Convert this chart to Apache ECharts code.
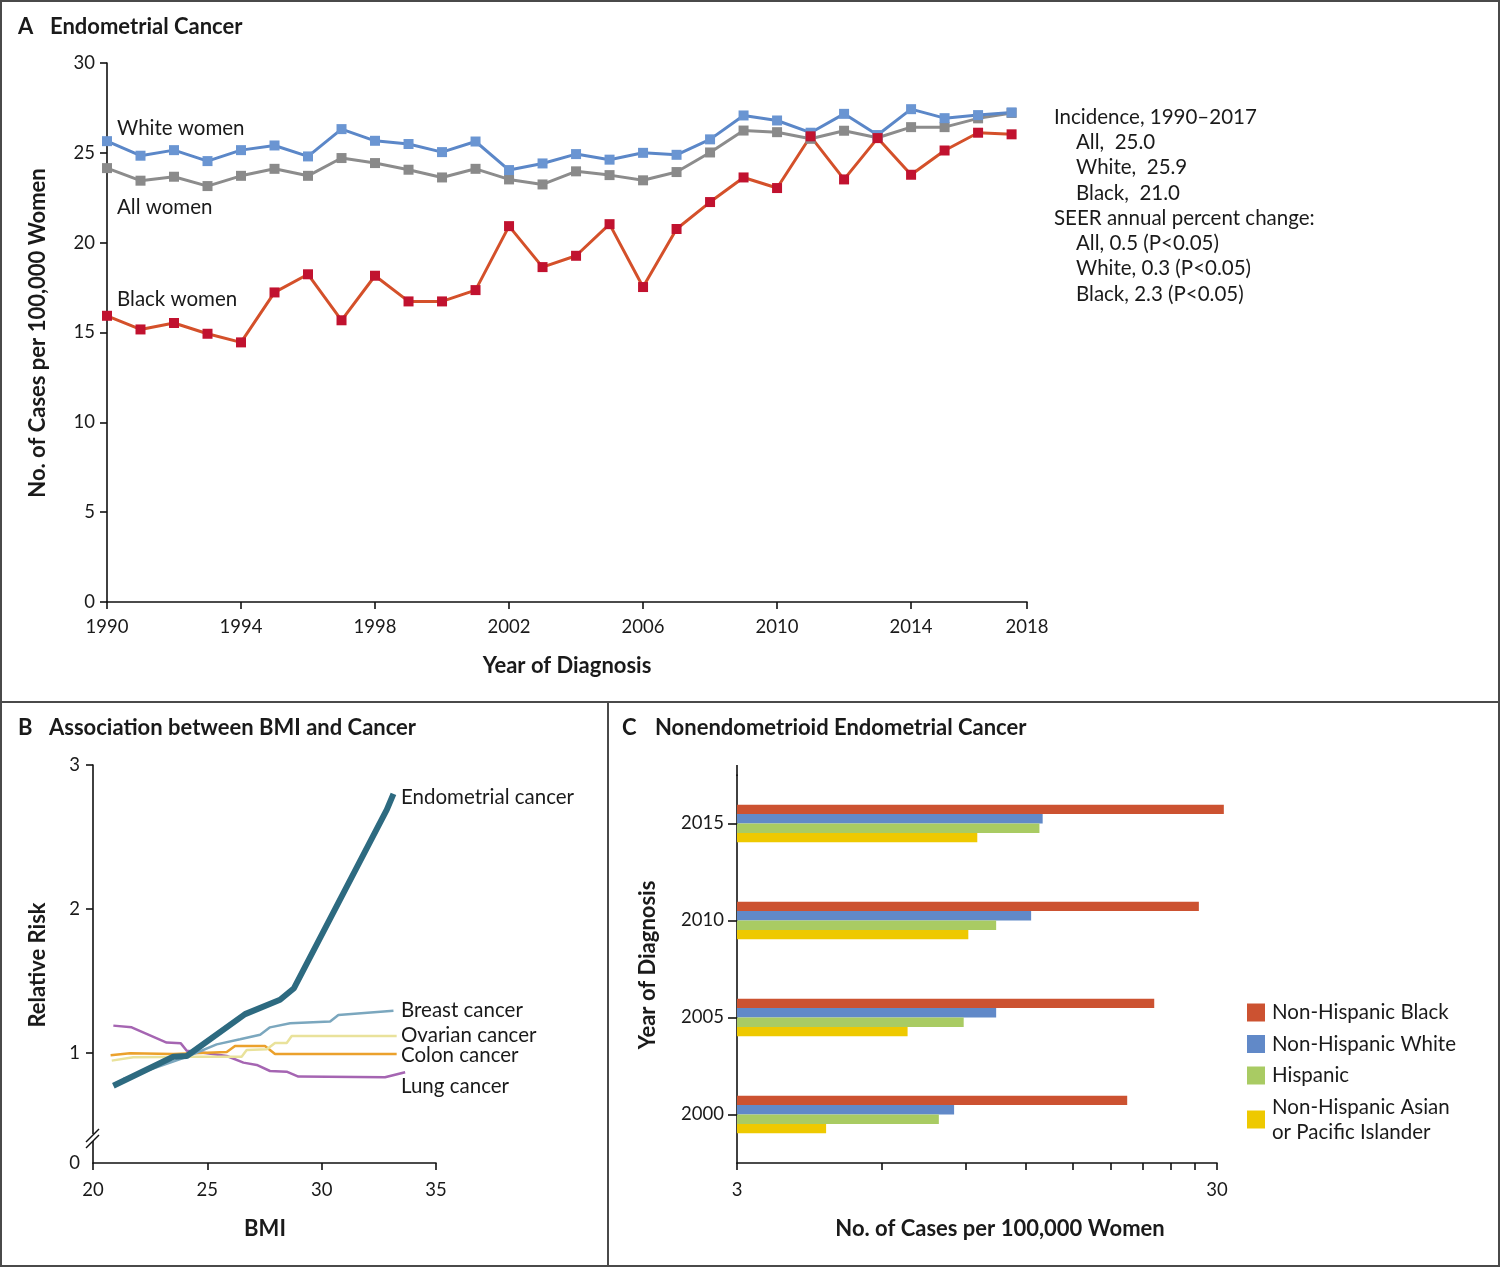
<!DOCTYPE html>
<html><head><meta charset="utf-8">
<script src="https://cdn.jsdelivr.net/npm/echarts@6/dist/echarts.min.js"></script>
<style>html,body{margin:0;padding:0;background:#fff}#c{width:1500px;height:1267px}</style>
</head><body><div id="c"></div>
<script>
// ---------- Panel A data ----------
const years = [1990,1991,1992,1993,1994,1995,1996,1997,1998,1999,2000,2001,2002,2003,2004,2005,2006,2007,2008,2009,2010,2011,2012,2013,2014,2015,2016,2017];
const whiteWomen = [25.65,24.84,25.15,24.54,25.15,25.41,24.80,26.32,25.67,25.49,25.04,25.63,24.04,24.41,24.93,24.62,25.00,24.89,25.75,27.08,26.80,26.12,27.17,25.99,27.43,26.93,27.10,27.25];
const allWomen   = [24.15,23.45,23.67,23.15,23.72,24.11,23.72,24.71,24.43,24.06,23.63,24.11,23.52,23.24,23.97,23.76,23.47,23.93,25.02,26.24,26.15,25.78,26.23,25.84,26.43,26.43,26.92,27.22];
const blackWomen = [15.93,15.17,15.53,14.93,14.45,17.23,18.24,15.68,18.16,16.73,16.73,17.36,20.92,18.64,19.27,21.03,17.53,20.76,22.26,23.63,23.04,25.92,23.52,25.82,23.78,25.13,26.12,26.03];
const aYTicks = [0,5,10,15,20,25,30];
const aXTicks = [1990,1994,1998,2002,2006,2010,2014];
const aAxisEnd = 2017.46; // axis end, labelled "2018"
const aNotes = ['Incidence, 1990\u20132017','All,  25.0','White,  25.9','Black,  21.0','SEER annual percent change:','All, 0.5 (P<0.05)','White, 0.3 (P<0.05)','Black, 2.3 (P<0.05)'];
const aNoteIndent = [0,1,1,1,0,1,1,1];

// ---------- Panel B data (BMI, relative risk) ----------
const bmiEndometrial = [[20.89,0.773],[23.51,0.974],[24.10,0.979],[26.65,1.27],[28.18,1.37],[28.79,1.45],[32.85,2.69],[33.14,2.80]];
const bmiBreast  = [[21.33,0.82],[24.10,0.974],[25.41,1.06],[26.43,1.095],[27.31,1.127],[27.74,1.178],[28.62,1.206],[30.37,1.218],[30.73,1.264],[33.14,1.294]];
const bmiOvarian = [[20.82,0.947],[21.76,0.97],[24.24,0.974],[26.50,0.974],[26.72,1.02],[27.60,1.026],[27.96,1.07],[28.47,1.07],[28.69,1.118],[33.28,1.118]];
const bmiColon   = [[20.77,0.984],[21.62,0.998],[23.51,0.993],[25.85,1.007],[26.21,1.049],[27.52,1.049],[27.96,0.993],[33.28,0.993]];
const bmiLung    = [[20.89,1.19],[21.69,1.178],[23.22,1.072],[23.84,1.067],[24.10,1.016],[24.83,1.002],[25.85,0.979],[26.58,0.933],[27.16,0.917],[27.74,0.875],[28.47,0.87],[28.98,0.836],[32.77,0.831],[33.65,0.866]];
const bYLabelValues = [1,2,3];
const bYBottom = 0.236; // broken axis bottom, labelled "0"

// ---------- Panel C data ----------
const cYears = ['2000','2005','2010','2015'];
const cBlack    = [19.5,22.2,27.5,31.0];
const cWhite    = [8.5,10.4,12.3,13.0];
const cHispanic = [7.9,8.9,10.4,12.8];
const cAsian    = [4.6,6.8,9.1,9.5];
const cXTicks = [3,6,9,12,15,18,21,24,27,30];
const cXLabels = [3,30];

const F = 'Lato, "Open Sans", sans-serif';
const TXT = '#1a1a1a';
const axisLine = {show:true, lineStyle:{color:'#111', width:1.6}};
const axisTick = {show:true, length:7, lineStyle:{color:'#111', width:1.6}};
const lbl = (extra) => Object.assign({color:TXT, fontFamily:F, fontSize:18.5}, extra||{});
const REG = '20.5px ' + F;
const BOLDT = 'bold 22px ' + F;

const chart = echarts.init(document.getElementById('c'), null, {renderer:'canvas'});

const txt = (x, y, text, font, extra) => Object.assign({type:'text', x, y, style:{text, font, fill:TXT, textVerticalAlign:'middle'}}, extra||{});
const vtxt = (x, y, text) => ({type:'text', x, y, rotation:Math.PI/2, style:{text, font:BOLDT, fill:TXT, textAlign:'center', textVerticalAlign:'middle'}});
const ctxt = (x, y, text) => ({type:'text', x, y, style:{text, font:BOLDT, fill:TXT, textAlign:'center', textVerticalAlign:'middle'}});

const graphics = [
  {type:'rect', shape:{x:1,y:1,width:1498,height:1265}, style:{fill:'none', stroke:'#4a4a4a', lineWidth:2}, z:100},
  {type:'line', shape:{x1:0,y1:702,x2:1500,y2:702}, style:{stroke:'#4a4a4a', lineWidth:2}, z:100},
  {type:'line', shape:{x1:608,y1:702,x2:608,y2:1267}, style:{stroke:'#4a4a4a', lineWidth:2}, z:100},
  // titles
  txt(18, 27, 'A', BOLDT), txt(50, 27, 'Endometrial Cancer', BOLDT),
  txt(18, 728, 'B', BOLDT), txt(49, 728, 'Association between BMI and Cancer', BOLDT),
  txt(622, 728, 'C', BOLDT), txt(655, 728, 'Nonendometrioid Endometrial Cancer', BOLDT),
  // axis names
  vtxt(38, 333, 'No. of Cases per 100,000 Women'),
  ctxt(567, 666, 'Year of Diagnosis'),
  vtxt(38, 965, 'Relative Risk'),
  ctxt(265, 1229, 'BMI'),
  vtxt(648, 965, 'Year of Diagnosis'),
  ctxt(1000, 1229, 'No. of Cases per 100,000 Women'),
  // series labels A
  txt(117, 128, 'White women', REG), txt(117, 207, 'All women', REG), txt(117, 299, 'Black women', REG),
  // series labels B
  txt(401, 797, 'Endometrial cancer', REG), txt(401, 1010, 'Breast cancer', REG),
  txt(401, 1035, 'Ovarian cancer', REG), txt(401, 1055, 'Colon cancer', REG), txt(401, 1086, 'Lung cancer', REG),
  // axis break marks B
  {type:'rect', shape:{x:89,y:1134,width:8,height:7}, style:{fill:'#fff'}, z:50},
  {type:'line', shape:{x1:86,y1:1142,x2:99,y2:1129}, style:{stroke:'#111', lineWidth:1.5}, z:51},
  {type:'line', shape:{x1:86,y1:1148,x2:99,y2:1135}, style:{stroke:'#111', lineWidth:1.5}, z:51},
  // C y axis line extends a bit above the plotting band
  {type:'line', shape:{x1:737,y1:765,x2:737,y2:776}, style:{stroke:'#111', lineWidth:1.6}, z:51}
];
aNotes.forEach((t,i)=>{
  graphics.push(txt(1054 + aNoteIndent[i]*22, 117 + i*25.3, t, REG));
});

const lineA = (name, data, lc, mc) => ({
  name, type:'line', xAxisIndex:0, yAxisIndex:0,
  data: years.map((y,i)=>[y, data[i]]),
  symbol:'rect', symbolSize:10, showSymbol:true,
  lineStyle:{color:lc, width:3}, itemStyle:{color:mc}, emphasis:{disabled:true}, animation:false
});
const lineB = (name, data, c, w, z) => ({
  name, type:'line', xAxisIndex:1, yAxisIndex:1, data, showSymbol:false, symbol:'none', z,
  lineStyle:{color:c, width:w}, emphasis:{disabled:true}, animation:false
});
const barC = (name, data, c) => ({
  name, type:'bar', xAxisIndex:2, yAxisIndex:2, data, barWidth:9.4, barGap:'0%', clip:false,
  itemStyle:{color:c}, emphasis:{disabled:true}, animation:false
});

chart.setOption({
  animation:false,
  backgroundColor:'#fff',
  textStyle:{fontFamily:F},
  grid:[
    {left:107, top:63, width:920, height:539},
    {left:93, top:765, width:343, height:398},
    {left:737, top:775, width:480, height:388}
  ],
  xAxis:[
    {gridIndex:0, type:'value', min:1990, max:aAxisEnd, axisLine, axisTick:Object.assign({}, axisTick, {customValues: aXTicks.concat([aAxisEnd])}), splitLine:{show:false},
      axisLabel:lbl({margin:16, customValues: aXTicks.concat([aAxisEnd]), formatter:v => v > 2015 ? '2018' : String(v)})},
    {gridIndex:1, type:'value', min:20, max:35, interval:5, axisLine, axisTick, splitLine:{show:false},
      axisLabel:lbl({margin:18})},
    {gridIndex:2, type:'log', logBase:10, min:3, max:30, startValue:3, axisLine, splitLine:{show:false},
      axisTick:Object.assign({}, axisTick, {customValues:cXTicks}),
      axisLabel:lbl({margin:18, customValues:cXLabels, formatter:v => String(Math.round(v))})}
  ],
  yAxis:[
    {gridIndex:0, type:'value', min:0, max:30, interval:5, axisLine, axisTick, splitLine:{show:false},
      axisLabel:lbl({margin:12})},
    {gridIndex:1, type:'value', min:bYBottom, max:3, axisLine, splitLine:{show:false},
      axisTick:Object.assign({}, axisTick, {customValues:bYLabelValues}),
      axisLabel:lbl({margin:13, customValues:[bYBottom].concat(bYLabelValues), formatter:v => v < 0.5 ? '0' : String(Math.round(v))})},
    {gridIndex:2, type:'category', data:cYears, axisLine, splitLine:{show:false},
      axisTick:Object.assign({}, axisTick, {alignWithLabel:true, length:9}),
      axisLabel:lbl({margin:13})}
  ],
  legend:{
    orient:'vertical', left:1247, top:1000, padding:0, itemWidth:18, itemHeight:18, itemGap:6.5, icon:'rect',
    data:['Non-Hispanic Black','Non-Hispanic White','Hispanic','Non-Hispanic Asian or Pacific Islander'],
    formatter: n => n.replace(' or ', '\nor '),
    textStyle:{fontFamily:F, fontSize:20.5, color:TXT, lineHeight:25, padding:[0,0,0,2]},
    selectedMode:false
  },
  series:[
    lineA('All women', allWomen, '#8c8c8c', '#8a8a8a'),
    lineA('White women', whiteWomen, '#5b87c8', '#6a95d2'),
    lineA('Black women', blackWomen, '#d4502a', '#c1122f'),
    lineB('Lung cancer', bmiLung, '#a565b2', 2.5, 2),
    lineB('Colon cancer', bmiColon, '#eba12c', 2.5, 3),
    lineB('Ovarian cancer', bmiOvarian, '#e9e29b', 2.5, 4),
    lineB('Endometrial cancer', bmiEndometrial, '#2d6a80', 6, 6),
    lineB('Breast cancer', bmiBreast, '#7ba7be', 2.5, 5),
    barC('Non-Hispanic Black', cBlack, '#cc5231'),
    barC('Non-Hispanic White', cWhite, '#6189c8'),
    barC('Hispanic', cHispanic, '#a9cb63'),
    barC('Non-Hispanic Asian or Pacific Islander', cAsian, '#eec900')
  ],
  graphic: graphics
});
</script></body></html>
